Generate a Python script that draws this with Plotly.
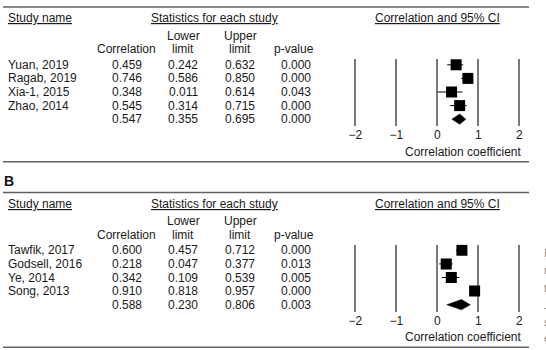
import plotly.graph_objects as go

# ---------------- data ----------------
studies_a = ["Yuan, 2019", "Ragab, 2019", "Xia-1, 2015", "Zhao, 2014"]
corr_a = [0.459, 0.746, 0.348, 0.545]
lower_a = [0.242, 0.586, 0.011, 0.314]
upper_a = [0.632, 0.850, 0.614, 0.715]
pval_a = ["0.000", "0.000", "0.043", "0.000"]
summary_a = [0.547, 0.355, 0.695]
summary_p_a = "0.000"

studies_b = ["Tawfik, 2017", "Godsell, 2016", "Ye, 2014", "Song, 2013"]
corr_b = [0.600, 0.218, 0.342, 0.910]
lower_b = [0.457, 0.047, 0.109, 0.818]
upper_b = [0.712, 0.377, 0.539, 0.957]
pval_b = ["0.000", "0.013", "0.005", "0.000"]
summary_b = [0.588, 0.230, 0.806]
summary_p_b = "0.003"

tick_vals = [-2, -1, 0, 1, 2]
tick_text = ["\u22122", "\u22121", "0", "1", "2"]

# ---------------- layout helpers ----------------
W, H = 546, 350
FONT = "Liberation Sans, Arial, sans-serif"
TXT = "#1a1a1a"


def px(x):
    return x / W


def py(y):
    return 1 - y / H


fig = go.Figure()
annotations = []
shapes = []


def text(x, y, s, anchor="center", size=12, color=TXT, underline=False, bold=False):
    f = dict(family=FONT, size=size, color=color)
    if underline:
        f["lineposition"] = "under"
    if bold:
        f["weight"] = "bold"
    annotations.append(dict(x=px(x), y=py(y), xref="paper", yref="paper", text=s,
                            showarrow=False, xanchor=anchor, yanchor="middle",
                            font=f, borderpad=0))


def hrule(y, x0=3, x1=529):
    shapes.append(dict(type="line", xref="paper", yref="paper", x0=px(x0), x1=px(x1),
                       y0=py(y), y1=py(y), line=dict(color="#606060", width=1.5)))


ROW_H = 13.6
X_CORR, X_LOW, X_UP, X_P = 126.5, 183, 240, 296


def panel(off, studies, corr, lower, upper, pvals, summary, sp, xa, ya, label):
    # label & rules
    text(3, off - 4.5, "<b>" + label + "</b>", anchor="left", size=14, color="#111")
    hrule(off + 7)
    hrule(off + 161.7)
    # headers
    text(7.3, off + 18.5, "Study name", anchor="left", underline=True)
    text(214, off + 18.5, "Statistics for each study", underline=True)
    text(437.3, off + 18.5, "Correlation and 95% CI", underline=True)
    text(X_LOW, off + 35.7, "Lower")
    text(X_UP, off + 35.7, "Upper")
    text(X_CORR, off + 49.3, "Correlation")
    text(X_LOW, off + 49.3, "limit")
    text(X_UP, off + 49.3, "limit")
    text(X_P - 2, off + 49.3, "p-value")
    row0 = off + 64.8
    for i, s in enumerate(studies):
        y = row0 + i * ROW_H
        text(7.3, y, s, anchor="left")
        text(X_CORR, y, f"{corr[i]:.3f}")
        text(X_LOW, y, f"{lower[i]:.3f}")
        text(X_UP, y, f"{upper[i]:.3f}")
        text(X_P, y, pvals[i])
    ys = row0 + len(studies) * ROW_H
    text(X_CORR, ys, f"{summary[0]:.3f}")
    text(X_LOW, ys, f"{summary[1]:.3f}")
    text(X_UP, ys, f"{summary[2]:.3f}")
    text(X_P, ys, sp)
    text(523, off + 151.5, "Correlation coefficient", anchor="right")

    # forest marks
    rows = list(range(len(studies)))
    fig.add_trace(go.Scatter(
        x=corr, y=rows, mode="markers", xaxis=xa, yaxis=ya,
        marker=dict(symbol="square", size=11, color="black", line=dict(width=0)),
        error_x=dict(type="data", symmetric=False,
                     array=[u - c for u, c in zip(upper, corr)],
                     arrayminus=[c - l for c, l in zip(corr, lower)],
                     width=0, thickness=1, color="black"),
        showlegend=False, hoverinfo="skip"))
    k = len(studies)
    h = 0.38
    fig.add_trace(go.Scatter(
        x=[summary[1], summary[0], summary[2], summary[0], summary[1]],
        y=[k, k - h, k, k + h, k], mode="lines", fill="toself",
        fillcolor="black", line=dict(color="black", width=0.5),
        xaxis=xa, yaxis=ya, showlegend=False, hoverinfo="skip"))


panel(0, studies_a, corr_a, lower_a, upper_a, pval_a, summary_a, summary_p_a, "x", "y", "A")
OFF_B = 185.5
panel(OFF_B, studies_b, corr_b, lower_b, upper_b, pval_b, summary_b, summary_p_b, "x2", "y2", "B")

# cut-off fragments at right edge of panel B
for yy, ch in zip([253, 270, 288, 307, 322, 338], ["I", "r", "t", "-", "s", "e"]):
    text(542.5, yy, ch, anchor="left", size=11, color="#8a8a8a")

X0, X1 = 340, 534
xr = [(X0 - 437.3) / 41.0, (X1 - 437.3) / 41.0]
yr = [4.5, -0.426]

axis_x = dict(range=xr, domain=[px(X0), px(X1)], tickvals=tick_vals, ticktext=tick_text,
              showgrid=True, gridcolor="#7a7a7a", gridwidth=1.6, zeroline=False,
              showline=False, ticks="", fixedrange=True,
              tickfont=dict(family=FONT, size=12, color=TXT))
axis_y = dict(range=yr, showgrid=False, zeroline=False, showticklabels=False,
              showline=False, ticks="", fixedrange=True)

fig.update_layout(
    width=W, height=H, margin=dict(l=0, r=0, t=0, b=0),
    paper_bgcolor="white", plot_bgcolor="white",
    xaxis=dict(axis_x, anchor="y"),
    yaxis=dict(axis_y, domain=[py(126), py(59)], anchor="x"),
    xaxis2=dict(axis_x, anchor="y2"),
    yaxis2=dict(axis_y, domain=[py(126 + OFF_B), py(59 + OFF_B)], anchor="x2"),
    annotations=annotations, shapes=shapes,
)

fig.write_html("out.html")
